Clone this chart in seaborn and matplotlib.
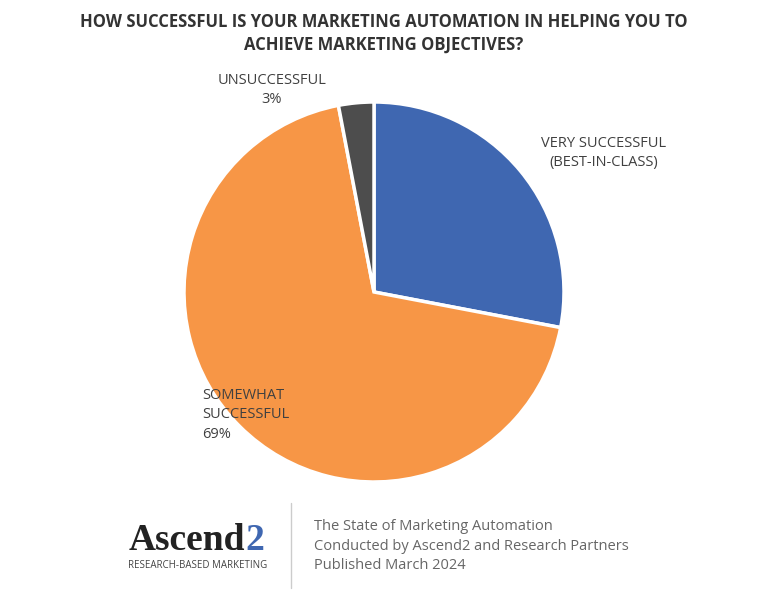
import matplotlib
matplotlib.use("Agg")
import matplotlib.pyplot as plt
import seaborn as sns

sns.set_theme(style="white")
plt.rcParams['font.family'] = ['Open Sans', 'DejaVu Sans']

categories = ['VERY SUCCESSFUL\n(BEST-IN-CLASS)', 'SOMEWHAT\nSUCCESSFUL\n69%', 'UNSUCCESSFUL\n3%']
values = [28, 69, 3]
colors = ['#3f67b1', '#f79646', '#4d4d4d']

fig = plt.figure(figsize=(7.68, 6.06), dpi=100)
W, H = 768, 606
ax = fig.add_axes([(374 - 190) / W, (606 - 292 - 190) / H, 380 / W, 380 / H])
ax.pie(values, colors=colors, startangle=90, counterclock=False,
       wedgeprops=dict(edgecolor='white', linewidth=2.5))
ax.set_xlim(-1.0, 1.0)
ax.set_ylim(-1.0, 1.0)
ax.set_aspect('equal')

fig.text(0.5, 1 - 33 / H, 'HOW SUCCESSFUL IS YOUR MARKETING AUTOMATION IN HELPING YOU TO\nACHIEVE MARKETING OBJECTIVES?',
         ha='center', va='center', fontsize=12, fontweight='bold', color='#333333', linespacing=1.35)

lab = dict(fontsize=10.5, color='#404040', linespacing=1.45)
fig.text(604 / W, 1 - 153 / H, categories[0], ha='center', va='center', **lab)
fig.text(202 / W, 1 - 415 / H, categories[1], ha='left', va='center', **lab)
fig.text(272 / W, 1 - 90 / H, categories[2], ha='center', va='center', **lab)

# footer
fig.text(245 / W, 1 - 540 / H, 'Ascend', ha='right', va='center', fontsize=27, fontweight='bold',
         family='Liberation Serif', color='#222222')
fig.text(245 / W, 1 - 540 / H, '2', ha='left', va='center', fontsize=27, fontweight='bold',
         family='Liberation Serif', color='#3f67b1')
fig.text(198 / W, 1 - 565 / H, 'RESEARCH-BASED MARKETING', ha='center', va='center', fontsize=7, color='#444444')
fig.add_artist(plt.Line2D([291 / W, 291 / W], [1 - 588 / H, 1 - 503 / H], color='#cccccc', lw=1))
fig.text(314 / W, 1 - 546 / H, 'The State of Marketing Automation\nConducted by Ascend2 and Research Partners\nPublished March 2024',
         ha='left', va='center', fontsize=10.5, color='#666666', linespacing=1.4)

fig.savefig('out.png', dpi=100)
